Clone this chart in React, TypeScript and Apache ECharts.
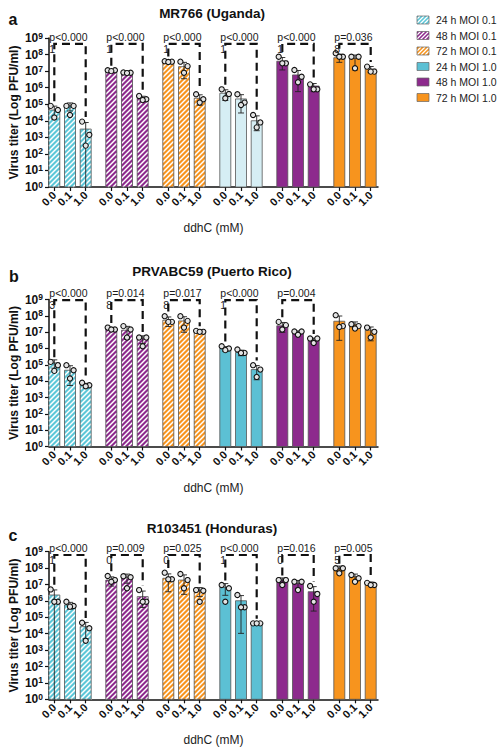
import React, { useEffect, useRef } from 'react';
import * as echarts from 'echarts';

const FONT = '"Liberation Sans", Arial, Helvetica, sans-serif';

// ---------- categories / labels ----------
const doseLabels = ['0.0', '0.1', '1.0'];
const groupNames = ['24 h MOI 0.1', '48 h MOI 0.1', '72 h MOI 0.1', '24 h MOI 1.0', '48 h MOI 1.0', '72 h MOI 1.0'];
const panelTitles = ['MR766 (Uganda)', 'PRVABC59 (Puerto Rico)', 'R103451 (Honduras)'];
const panelLetters = ['a', 'b', 'c'];
const yTickExponents = [0, 1, 2, 3, 4, 5, 6, 7, 8, 9];

// ---------- data (log10 PFU/ml) ----------
// bar heights, per group [0.0, 0.1, 1.0 mM]
const meansA = [[4.65, 4.9, 3.5], [7.03, 6.9, 5.36], [7.57, 7.27, 5.36], [5.66, 5.32, 4.0], [7.6, 6.77, 6.1], [7.81, 7.77, 7.13]];
const meansB = [[5.12, 4.67, 3.75], [7.22, 7.12, 6.6], [7.73, 7.69, 7.02], [6.0, 5.76, 4.71], [7.39, 6.98, 6.51], [7.67, 7.49, 7.12]];
const meansC = [[6.36, 5.75, 4.43], [7.27, 7.44, 6.26], [7.38, 7.27, 6.62], [6.83, 6.01, 4.63], [7.27, 7.07, 6.56], [7.99, 7.48, 7.07]];

// replicate points
const dotsA = [
  [[4.9, 4.65, 4.2], [4.9, 4.9, 4.35], [3.95, 3.15, 2.5]],
  [[7.05, 7.05, 7.0], [6.92, 6.9, 6.88], [5.5, 5.3, 5.25]],
  [[7.6, 7.57, 7.55], [7.57, 7.3, 6.9], [5.6, 5.3, 5.1]],
  [[5.9, 5.62, 5.36], [5.6, 5.1, 4.95], [4.35, 3.9, 3.6]],
  [[7.87, 7.47, 7.47], [7.07, 6.66, 6.33], [6.2, 5.9, 5.9]],
  [[8.08, 7.87, 7.87], [7.87, 7.87, 7.17], [7.27, 6.97, 6.97]],
];
const dotsB = [
  [[5.18, 4.98, 4.63], [4.98, 4.67, 4.16], [3.9, 3.75, 3.69]],
  [[7.28, 7.16, 7.16], [7.37, 7.16, 6.67], [6.67, 6.67, 6.14]],
  [[7.98, 7.63, 7.63], [7.98, 7.69, 7.28], [7.08, 7.02, 7.02]],
  [[6.14, 6.0, 5.9], [5.94, 5.73, 5.73], [4.98, 4.71, 4.26]],
  [[7.63, 7.43, 7.16], [7.04, 7.04, 6.84], [6.61, 6.61, 6.34]],
  [[8.04, 7.37, 7.32], [7.49, 7.37, 7.22], [7.28, 7.02, 6.67]],
];
const dotsC = [
  [[6.7, 5.95, 5.95], [5.95, 5.69, 5.65], [4.67, 4.33, 3.57]],
  [[7.52, 7.27, 7.17], [7.5, 7.44, 6.77], [6.66, 5.95, 5.95]],
  [[7.72, 7.32, 7.32], [7.64, 7.27, 6.77], [6.66, 6.62, 5.95]],
  [[6.97, 6.77, 5.95], [6.36, 5.61, 5.61], [4.63, 4.63, 4.63]],
  [[7.27, 7.27, 6.97], [7.17, 7.17, 6.66], [6.91, 6.42, 5.95]],
  [[7.99, 7.99, 7.68], [7.58, 7.38, 7.17], [7.1, 6.97, 6.97]],
];

const errLowA = [[null, null, null], [null, null, null], [null, null, null], [null, 4.47, 3.4], [7.07, 5.76, 5.76], [7.53, 7.07, null]];
const errLowB = [[null, null, null], [null, null, null], [null, null, null], [null, null, null], [null, null, null], [6.5, null, 6.47]];
const errLowC = [[null, null, null], [null, null, 5.6], [null, 6.4, null], [null, 4.02, null], [null, null, 5.38], [null, null, null]];

// p-value labels (first line / wrapped second line)
const pA = ['p<0.000', 'p<0.000', 'p<0.000', 'p<0.000', 'p<0.000', 'p=0.036'];
const p2A = ['1', '1', '1', '1', '1', '8'];
const pB = ['p<0.000', 'p=0.014', 'p=0.017', 'p<0.000', 'p=0.004', ''];
const p2B = ['3', '8', '8', '1', '', ''];
const pC = ['p<0.000', 'p=0.009', 'p=0.025', 'p<0.000', 'p=0.016', 'p=0.005'];
const p2C = ['1', '0', '0', '1', '0', '5'];
// bracket height (log10)
const bracketLevels = [8.64, 8.96, 8.8];

// ---------- styles / layout ----------
const groupColors = ['#5dc7d8', '#8d2a8d', '#f7941e', '#5cc0d4', '#8d2a8d', '#f7941e'];
const groupHatched = [true, true, true, false, false, false];
const PALE_CYAN = '#d6eef4';
const TEXT_COLOR = '#1a1a1a';
const grids = [
  { left: 49, top: 38, width: 329, height: 149 },
  { left: 49, top: 299.5, width: 329, height: 147 },
  { left: 49, top: 551.7, width: 329, height: 147.6 },
];
const titleY = [13, 271, 528];
const letterPos = [[13, 19], [14, 276], [13, 535]];
const BAR_W = 11;
const FIRST = 5.3, GROUP_PITCH = 57, BAR_PITCH = 15.7;
const HATCH = 5;
const DOT_R = 2.6;
const DOT_DX = [-3.6, 3.6, 0];

const panelMeans = [meansA, meansB, meansC];
const panelDots = [dotsA, dotsB, dotsC];
const panelErrLow = [errLowA, errLowB, errLowC];
const panelP = [pA, pB, pC];
const panelP2 = [p2A, p2B, p2C];

const xPos = (g: number, b: number) => FIRST + g * GROUP_PITCH + b * BAR_PITCH;
const XS: number[] = [];
for (let g = 0; g < 6; g++) for (let b = 0; b < 3; b++) XS.push(xPos(g, b));

function doseFor(v: number) {
  let best = 0, bd = 1e9;
  XS.forEach((x, i) => { const d = Math.abs(x - v); if (d < bd) { bd = d; best = i; } });
  return doseLabels[best % 3];
}

function stats(p: number, g: number, b: number) {
  const mean = Math.pow(10, panelMeans[p][g][b]);
  const d = panelDots[p][g][b];
  const lin = d.map((v) => Math.pow(10, v));
  const sd = Math.sqrt(lin.reduce((s, v) => s + (v - mean) * (v - mean), 0) / (lin.length - 1));
  const lo = panelErrLow[p][g][b];
  const lower = lo != null ? Math.pow(10, lo) : (mean - sd > 1 ? mean - sd : 1);
  return { mean, upper: mean + sd, lower, dots: d };
}

function hatchLines(x0: number, y0: number, x1: number, y1: number, s: number) {
  const out: any[] = [];
  const start = Math.ceil((x0 + y0) / s) * s;
  for (let c = start; c < x1 + y1; c += s) {
    const xa = Math.max(x0, c - y1), xb = Math.min(x1, c - y0);
    if (xb - xa > 0.2) out.push({ x1: xa, y1: c - xa, x2: xb, y2: c - xb });
  }
  return out;
}

const barRender = (p: number) => (params: any, api: any) => {
  const xv = api.value(0), g = api.value(2), b = api.value(3);
  const st = stats(p, g, b);
  const [cx, ty] = api.coord([xv, st.mean]);
  const by = api.coord([xv, 1])[1];
  const half = Math.abs(api.coord([xv + BAR_W / 2, st.mean])[0] - cx);
  const x0 = cx - half, x1 = cx + half;
  const color = p === 0 && g === 3 ? PALE_CYAN : groupColors[g];
  const children: any[] = [];
  children.push({ type: 'rect', shape: { x: x0, y: ty, width: 2 * half, height: by - ty }, style: { fill: color } });
  if (groupHatched[g]) {
    hatchLines(x0, ty, x1, by, HATCH).forEach((l) =>
      children.push({ type: 'line', shape: l, style: { stroke: '#ffffff', lineWidth: 1.5 } }));
  }
  children.push({ type: 'rect', shape: { x: x0, y: ty, width: 2 * half, height: by - ty }, style: { fill: 'none', stroke: '#555', lineWidth: 0.8 } });
  const uy = api.coord([xv, st.upper])[1];
  const ly = api.coord([xv, st.lower])[1];
  children.push({ type: 'line', shape: { x1: cx, y1: uy, x2: cx, y2: ly }, style: { stroke: '#222', lineWidth: 0.9 } });
  children.push({ type: 'line', shape: { x1: cx - 3, y1: uy, x2: cx + 3, y2: uy }, style: { stroke: '#222', lineWidth: 0.9 } });
  if (st.lower > 1) children.push({ type: 'line', shape: { x1: cx - 3, y1: ly, x2: cx + 3, y2: ly }, style: { stroke: '#222', lineWidth: 0.9 } });
  st.dots.forEach((d, i) => {
    const py = api.coord([xv, Math.pow(10, d)])[1];
    children.push({ type: 'circle', shape: { cx: cx + DOT_DX[i], cy: py, r: DOT_R }, style: { fill: '#e4e4e4', stroke: '#111', lineWidth: 1.1 } });
  });
  return { type: 'group', children };
};

const bracketRender = (p: number) => (params: any, api: any) => {
  const g = api.value(2);
  const xl = api.coord([xPos(g, 0), 1])[0];
  const xr = api.coord([xPos(g, 2), 1])[0];
  const yb = api.coord([xPos(g, 0), Math.pow(10, bracketLevels[p])])[1];
  const topOf = (b: number) => {
    const st = stats(p, g, b);
    const ys = [api.coord([0, st.upper])[1], api.coord([0, st.mean])[1]];
    st.dots.forEach((d) => ys.push(api.coord([0, Math.pow(10, d)])[1] - DOT_R));
    return Math.max(yb + 4, Math.min(...ys) - 2);
  };
  const children: any[] = [];
  children.push({
    type: 'text',
    style: {
      text: panelP[p][g] + (panelP2[p][g] ? '\n' + panelP2[p][g] : ''),
      x: xl - 5, y: yb - 13, align: 'left', verticalAlign: 'top',
      fontSize: 10.5, lineHeight: 12, fontFamily: FONT, fill: TEXT_COLOR, opacity: 1,
    },
  });
  children.push({
    type: 'polyline',
    shape: { points: [[xl, topOf(0)], [xl, yb], [xr, yb], [xr, topOf(2)]] },
    style: { stroke: '#111', lineWidth: 2.2, fill: 'none', lineDash: [8, 5] },
  });
  return { type: 'group', children };
};

function buildOption() {
  const series: any[] = [];
  [0, 1, 2].forEach((p) => {
    const data: any[] = [];
    for (let g = 0; g < 6; g++) for (let b = 0; b < 3; b++) data.push([xPos(g, b), Math.pow(10, panelMeans[p][g][b]), g, b]);
    series.push({
      type: 'custom', coordinateSystem: 'cartesian2d', xAxisIndex: p, yAxisIndex: p,
      data, encode: { x: 0, y: 1 }, renderItem: barRender(p), clip: false, z: 2, silent: true,
      itemStyle: { color: TEXT_COLOR },
    });
    const bdata: any[] = [];
    for (let g = 0; g < 6; g++) if (panelP[p][g]) bdata.push([xPos(g, 1), Math.pow(10, bracketLevels[p]), g]);
    series.push({
      type: 'custom', coordinateSystem: 'cartesian2d', xAxisIndex: p, yAxisIndex: p,
      data: bdata, encode: { x: 0, y: 1 }, renderItem: bracketRender(p), clip: false, z: 3, silent: true,
      itemStyle: { color: TEXT_COLOR },
    });
  });

  const graphic: any[] = [];
  [0, 1, 2].forEach((p) => {
    graphic.push({ type: 'text', x: 212, y: titleY[p], style: { text: panelTitles[p], align: 'center', verticalAlign: 'middle', fontSize: 13.5, fontWeight: 'bold', fontFamily: FONT, fill: '#111' } });
    graphic.push({ type: 'text', x: letterPos[p][0], y: letterPos[p][1], style: { text: panelLetters[p], align: 'center', verticalAlign: 'middle', fontSize: 16, fontWeight: 'bold', fontFamily: FONT, fill: '#111' } });
  });
  groupNames.forEach((name, i) => {
    const y0 = 16 + i * 15.5;
    graphic.push({ type: 'rect', shape: { x: 417, y: y0, width: 12, height: 8 }, style: { fill: groupColors[i] } });
    if (groupHatched[i]) {
      hatchLines(417, y0, 429, y0 + 8, 4).forEach((l) => graphic.push({ type: 'line', shape: l, style: { stroke: '#fff', lineWidth: 1.3 } }));
    }
    graphic.push({ type: 'rect', shape: { x: 417, y: y0, width: 12, height: 8 }, style: { fill: 'none', stroke: '#666', lineWidth: 0.7 } });
    graphic.push({ type: 'text', x: 436, y: y0 + 4, style: { text: name, align: 'left', verticalAlign: 'middle', fontSize: 10.5, fontFamily: FONT, fill: '#222' } });
  });

  return {
    animation: false,
    backgroundColor: '#ffffff',
    grid: grids.map((g) => ({ ...g, containLabel: false, outerBoundsMode: 'none' })),
    xAxis: grids.map((_, i) => ({
      type: 'value', gridIndex: i, min: 0, max: 329,
      axisLine: { show: true, onZero: false, lineStyle: { color: '#111', width: 1.5 } },
      axisTick: { show: true, customValues: XS, length: 4, lineStyle: { color: '#111', width: 1.2 } },
      axisLabel: { show: true, customValues: XS, rotate: 45, margin: 6, fontSize: 11, fontWeight: 'bold', color: '#111', fontFamily: FONT, formatter: (v: number) => doseFor(v) },
      splitLine: { show: false },
      name: 'ddhC (mM)', nameLocation: 'middle', nameGap: 35, nameMoveOverlap: false,
      nameTextStyle: { fontSize: 12, color: '#222', fontFamily: FONT },
    })),
    yAxis: grids.map((_, i) => ({
      type: 'log', logBase: 10, gridIndex: i, min: 1, max: 1e9, interval: 1, splitNumber: 9,
      axisLine: { show: true, lineStyle: { color: '#111', width: 1.5 } },
      axisTick: { show: true, length: 4, lineStyle: { color: '#111', width: 1.2 } },
      axisLabel: {
        show: true, margin: 6, color: '#111',
        formatter: (v: number) => {
          const e = Math.round(Math.log10(v));
          return yTickExponents.indexOf(e) >= 0 ? '{b|10}{s|' + e + '}' : '';
        },
        rich: {
          b: { fontSize: 12, fontWeight: 'bold', fontFamily: FONT, color: '#111', lineHeight: 14 },
          s: { fontSize: 8.5, fontWeight: 'bold', fontFamily: FONT, color: '#111', verticalAlign: 'top', lineHeight: 9 },
        },
      },
      splitLine: { show: false },
      minorTick: { show: false },
      name: 'Virus titer (Log PFU/ml)', nameLocation: 'middle', nameGap: 29, nameRotate: 90, nameMoveOverlap: false,
      nameTextStyle: { fontSize: 12, fontWeight: 'bold', color: '#111', fontFamily: FONT },
    })),
    series,
    graphic,
  };
}

export default function App() {
  const ref = useRef<HTMLDivElement>(null);
  useEffect(() => {
    if (!ref.current) return;
    const chart = echarts.init(ref.current, undefined, { renderer: 'svg' });
    chart.setOption(buildOption() as any);
    return () => chart.dispose();
  }, []);
  return <div ref={ref} style={{ position: 'fixed', left: 0, top: 0, width: 503, height: 752, background: '#fff' }} />;
}
